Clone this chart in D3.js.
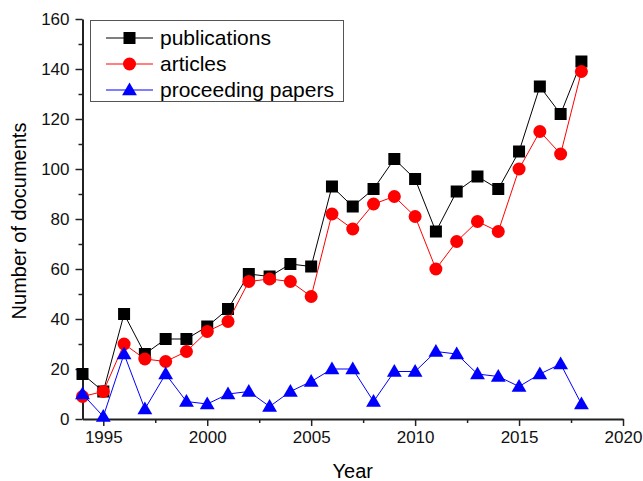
<!DOCTYPE html>
<html lang="en">
<head>
    <meta charset="UTF-8">
    <script src="https://d3js.org/d3.v7.min.js"></script>
    <style>
        body { margin: 0; background: #fff; }
        text { font-family: "Liberation Sans", Arial, sans-serif; }
    </style>
</head>
<body>
    <svg width="643" height="481"></svg>

    <script>
        let years = d3.range(1994, 2019);
        let publications = [18, 11, 42, 26, 32, 32, 37, 44, 58, 57, 62, 61, 93, 85, 92, 104, 96, 75, 91, 97, 92, 107, 133, 122, 143];
        let articles = [9, 11, 30, 24, 23, 27, 35, 39, 55, 56, 55, 49, 82, 76, 86, 89, 81, 60, 71, 79, 75, 100, 115, 106, 139];
        let proceedings = [10, 1, 26, 4, 18, 7, 6, 10, 11, 5, 11, 15, 20, 20, 7, 19, 19, 27, 26, 18, 17, 13, 18, 22, 6];
        let xTicks = [1995, 2000, 2005, 2010, 2015, 2020];
        let yTicks = [0, 20, 40, 60, 80, 100, 120, 140, 160];

        let series = [
            { name: "publications", values: publications, color: "#000000", shape: "square" },
            { name: "articles", values: articles, color: "#ff0000", shape: "circle" },
            { name: "proceeding papers", values: proceedings, color: "#0000ff", shape: "triangle" }
        ];

        let svg = d3.select("svg");
        let plotLeft = 82.5, plotRight = 623, plotTop = 19, plotBottom = 419;

        let x = d3.scaleLinear().domain([1994, 2020]).range([plotLeft, plotRight]);
        let y = d3.scaleLinear().domain([0, 160]).range([plotBottom, plotTop]);

        // minor ticks first, then the major axes on top
        let xMinor = d3.range(1997.5, 2020, 5);
        let yMinor = d3.range(10, 160, 20);

        svg.append("g")
            .attr("transform", "translate(0," + plotBottom + ")")
            .call(d3.axisBottom(x).tickValues(xMinor).tickSize(4).tickFormat(""))
            .call(g => g.select(".domain").remove())
            .selectAll("line").attr("stroke", "#222").attr("stroke-width", 1.5);

        svg.append("g")
            .attr("transform", "translate(" + plotLeft + ",0)")
            .call(d3.axisLeft(y).tickValues(yMinor).tickSize(4).tickFormat(""))
            .call(g => g.select(".domain").remove())
            .selectAll("line").attr("stroke", "#222").attr("stroke-width", 1.5);

        let xAxis = svg.append("g")
            .attr("transform", "translate(0," + plotBottom + ")")
            .call(d3.axisBottom(x).tickValues(xTicks).tickSize(7).tickSizeOuter(0).tickPadding(5).tickFormat(d3.format("d")));

        let yAxis = svg.append("g")
            .attr("transform", "translate(" + plotLeft + ",0)")
            .call(d3.axisLeft(y).tickValues(yTicks).tickSize(7).tickSizeOuter(0).tickPadding(6));

        [xAxis, yAxis].forEach(a => {
            a.select(".domain").attr("stroke", "#222").attr("stroke-width", 2);
            a.selectAll("line").attr("stroke", "#222").attr("stroke-width", 1.5);
            a.selectAll("text").attr("font-size", 17).attr("fill", "#111")
                .style("font-family", "'Liberation Sans', Arial, sans-serif");
        });

        svg.append("text")
            .attr("x", (plotLeft + plotRight) / 2)
            .attr("y", 478)
            .attr("text-anchor", "middle")
            .attr("font-size", 20)
            .text("Year");

        svg.append("text")
            .attr("transform", "translate(26,221) rotate(-90)")
            .attr("text-anchor", "middle")
            .attr("font-size", 20)
            .text("Number of documents");

        let line = d3.line()
            .x((d, i) => x(years[i]))
            .y(d => y(d));

        let triangle = d3.symbol().type(d3.symbolTriangle).size(95);

        function drawMarker(g, shape, color, cx, cy) {
            if (shape === "square") {
                g.append("rect")
                    .attr("x", cx - 6).attr("y", cy - 6)
                    .attr("width", 12).attr("height", 12)
                    .attr("fill", color);
            } else if (shape === "circle") {
                g.append("circle")
                    .attr("cx", cx).attr("cy", cy).attr("r", 6.5)
                    .attr("fill", color);
            } else {
                g.append("path")
                    .attr("transform", "translate(" + cx + "," + (cy + 1) + ")")
                    .attr("d", triangle())
                    .attr("fill", color);
            }
        }

        series.forEach(s => {
            let g = svg.append("g");
            g.append("path")
                .datum(s.values)
                .attr("fill", "none")
                .attr("stroke", s.color)
                .attr("stroke-width", 1)
                .attr("d", line);
            s.values.forEach((v, i) => drawMarker(g, s.shape, s.color, x(years[i]), y(v)));
        });

        // legend
        let legend = svg.append("g");
        legend.append("rect")
            .attr("x", 90.5).attr("y", 20.5)
            .attr("width", 253).attr("height", 81)
            .attr("fill", "#fff")
            .attr("stroke", "#555")
            .attr("stroke-width", 1);

        series.forEach((s, i) => {
            let ly = 38 + i * 26;
            legend.append("line")
                .attr("x1", 106).attr("x2", 153)
                .attr("y1", ly).attr("y2", ly)
                .attr("stroke", s.color)
                .attr("stroke-width", 1);
            drawMarker(legend, s.shape, s.color, 129.5, ly);
            legend.append("text")
                .attr("x", 160)
                .attr("y", ly + 7)
                .attr("font-size", 21)
                .text(s.name);
        });
    </script>
</body>
</html>
